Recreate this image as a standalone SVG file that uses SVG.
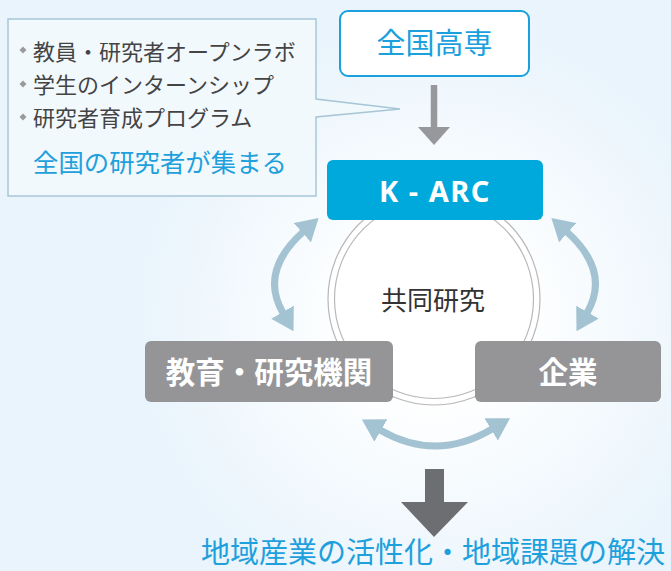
<svg xmlns="http://www.w3.org/2000/svg" width="671" height="571" viewBox="0 0 671 571">
<defs>
<radialGradient id="bg" cx="434" cy="320" r="300" gradientUnits="userSpaceOnUse">
<stop offset="0.25" stop-color="#ffffff"/>
<stop offset="1" stop-color="#e9f4fc"/>
</radialGradient>
<marker id="ah" markerUnits="userSpaceOnUse" markerWidth="22" markerHeight="26" viewBox="0 0 22 26" refX="1" refY="13" orient="auto-start-reverse">
<path d="M0,0 L22,13 L0,26 z" fill="#a3c3d3"/>
</marker>
<style>
.jp{font-family:"Noto Sans CJK JP","Noto Sans",sans-serif}
.cur{fill:none;stroke:#a3c3d3;stroke-width:7;marker-start:url(#ah);marker-end:url(#ah)}
.gbox{fill:#959598}
.wt{fill:#ffffff;font-weight:bold;font-size:29.5px;text-anchor:middle}
.bl{font-size:22px;fill:#444444}
.dot{fill:#9a9a9a}
</style>
</defs>
<rect x="0" y="0" width="671" height="571" fill="url(#bg)"/>

<g id="callout">
<path d="M8,19 H316 V99 L400,109 L316,117 V196 H8 Z" fill="#f2f9fd" stroke="#a7c6d6" stroke-width="1.5"/>
<path class="dot" d="M23,46.5 l3.5,3.5 l-3.5,3.5 l-3.5,-3.5 z"/>
<path class="dot" d="M23,80.5 l3.5,3.5 l-3.5,3.5 l-3.5,-3.5 z"/>
<path class="dot" d="M23,113.5 l3.5,3.5 l-3.5,3.5 l-3.5,-3.5 z"/>
<text class="jp bl" x="33" y="59.5">教員・研究者オープンラボ</text>
<text class="jp bl" x="33" y="92.5">学生のインターンシップ</text>
<text class="jp bl" x="33" y="125.5">研究者育成プログラム</text>
<text class="jp" x="33" y="171.5" font-size="25.4" fill="#1ea0dc">全国の研究者が集まる</text>
</g>

<g id="zenkoku">
<rect x="340" y="11" width="189" height="65" rx="8" fill="#ffffff" stroke="#1aa0dc" stroke-width="2"/>
<text class="jp" x="434.5" y="54" font-size="29" fill="#1aa0dc" text-anchor="middle">全国高専</text>
</g>

<g id="kyodo">
<circle cx="434" cy="299" r="106" fill="#ffffff" stroke="#b8b8b8" stroke-width="1.2"/>
<circle cx="434" cy="299" r="99.5" fill="none" stroke="#b8b8b8" stroke-width="1.2"/>
<text class="jp" x="433" y="310" font-size="26" fill="#333333" text-anchor="middle">共同研究</text>
</g>

<g id="karc">
<rect x="327" y="160" width="216" height="60" rx="6" fill="#00a9dc"/>
<text x="435" y="202" font-family="'Noto Sans','Open Sans',sans-serif" font-weight="bold" font-size="29" fill="#ffffff" text-anchor="middle" letter-spacing="1.5">K - ARC</text>
</g>

<g id="kyoiku">
<rect class="gbox" x="145" y="341" width="248" height="61" rx="6"/>
<text class="jp wt" x="269" y="383">教育・研究機関</text>
</g>

<g id="kigyo">
<rect class="gbox" x="475" y="341" width="186" height="61" rx="6"/>
<text class="jp wt" x="568" y="383">企業</text>
</g>

<g id="connectors">
<path d="M434,85 V128" stroke="#96989b" stroke-width="6.5" fill="none"/>
<path d="M418,127 H450 L434,145 Z" fill="#96989b"/>
<path class="cur" d="M303,232 Q259,271.5 283,313"/>
<path class="cur" d="M567,232 Q611,271.5 587,313"/>
<path class="cur" d="M380,430 Q436,462.5 492,429"/>
<rect x="425" y="469" width="19" height="34" fill="#6d6e71"/>
<path d="M401,502 H468 L434,537 Z" fill="#6d6e71"/>
</g>

<g id="result">
<text class="jp" x="433" y="562.5" font-size="29" fill="#1ea0dc" text-anchor="middle">地域産業の活性化・地域課題の解決</text>
</g>
</svg>
